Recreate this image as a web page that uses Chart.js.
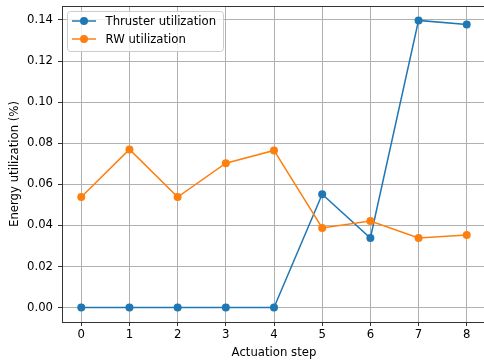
<!DOCTYPE html>
<html>
<head>
<meta charset="utf-8">
<script src="https://cdn.jsdelivr.net/npm/chart.js@4/dist/chart.umd.min.js"></script>
<style>
  html, body { margin: 0; padding: 0; background: #fff; overflow: hidden; }
  #wrap { width: 484px; height: 364px; overflow: hidden; position: relative; }
  canvas { display: block; }
</style>
</head>
<body>
<div id="wrap"><canvas id="c" width="490" height="364" style="width:490px;height:364px"></canvas></div>
<script>
const steps = [0, 1, 2, 3, 4, 5, 6, 7, 8];
const thrusterUtil = [0.0, 0.0, 0.0, 0.0, 0.0, 0.0552, 0.0339, 0.1398, 0.1378];
const rwUtil = [0.0538, 0.0770, 0.0538, 0.0703, 0.0765, 0.0388, 0.0421, 0.0339, 0.0354];
const xTicks = [0, 1, 2, 3, 4, 5, 6, 7, 8];
const yTicks = [0.00, 0.02, 0.04, 0.06, 0.08, 0.10, 0.12, 0.14];
const seriesNames = ['Thruster utilization', 'RW utilization'];
const seriesColors = ['#1f77b4', '#ff7f0e'];

const FONT = 'DejaVu Sans';
const FS = 11.7;

const toPts = (ys) => steps.map((x, i) => ({ x: x, y: ys[i] }));

const insideLegend = {
  id: 'insideLegend',
  afterDatasetsDraw(chart) {
    const ctx = chart.ctx;
    const ca = chart.chartArea;
    ctx.save();
    ctx.strokeStyle = '#333';
    ctx.lineWidth = 1;
    ctx.beginPath();
    ctx.moveTo(ca.left, ca.top + 0.5);
    ctx.lineTo(ca.right, ca.top + 0.5);
    ctx.stroke();

    const bx = 67.5, by = 11.5, bw = 156, bh = 40, r = 3;
    ctx.fillStyle = 'rgba(255,255,255,0.8)';
    ctx.strokeStyle = '#cccccc';
    ctx.lineWidth = 1;
    ctx.beginPath();
    ctx.moveTo(bx + r, by);
    ctx.lineTo(bx + bw - r, by);
    ctx.arcTo(bx + bw, by, bx + bw, by + r, r);
    ctx.lineTo(bx + bw, by + bh - r);
    ctx.arcTo(bx + bw, by + bh, bx + bw - r, by + bh, r);
    ctx.lineTo(bx + r, by + bh);
    ctx.arcTo(bx, by + bh, bx, by + bh - r, r);
    ctx.lineTo(bx, by + r);
    ctx.arcTo(bx, by, bx + r, by, r);
    ctx.closePath();
    ctx.fill();
    ctx.stroke();

    chart.data.datasets.forEach((ds, i) => {
      const y = 21 + i * 18;
      ctx.strokeStyle = ds.borderColor;
      ctx.lineWidth = 1.5;
      ctx.beginPath();
      ctx.moveTo(72, y);
      ctx.lineTo(96, y);
      ctx.stroke();
      ctx.fillStyle = ds.backgroundColor;
      ctx.beginPath();
      ctx.arc(84, y, 4, 0, Math.PI * 2);
      ctx.fill();
      ctx.fillStyle = '#000';
      ctx.font = FS + 'px "' + FONT + '"';
      ctx.textBaseline = 'middle';
      ctx.textAlign = 'left';
      ctx.fillText(ds.label, 105.5, y + 0.5);
    });
    ctx.restore();
  }
};

const xGridColor = (c) => (c.tick && xTicks.includes(c.tick.value)) ? '#b0b0b0' : 'rgba(0,0,0,0)';
const yGridColor = (c) => (c.tick && yTicks.includes(c.tick.value)) ? '#b0b0b0' : 'rgba(0,0,0,0)';

new Chart(document.getElementById('c'), {
  type: 'line',
  data: {
    datasets: [
      {
        label: seriesNames[0],
        data: toPts(thrusterUtil),
        borderColor: seriesColors[0],
        backgroundColor: seriesColors[0],
        borderWidth: 1.5,
        pointRadius: 4,
        pointBorderWidth: 0,
        pointHoverRadius: 4,
        tension: 0,
        order: 1
      },
      {
        label: seriesNames[1],
        data: toPts(rwUtil),
        borderColor: seriesColors[1],
        backgroundColor: seriesColors[1],
        borderWidth: 1.5,
        pointRadius: 4,
        pointBorderWidth: 0,
        pointHoverRadius: 4,
        tension: 0,
        order: 0
      }
    ]
  },
  options: {
    responsive: false,
    animation: false,
    devicePixelRatio: 1,
    layout: { padding: { left: 0, right: 0, top: 6, bottom: 0 } },
    plugins: {
      legend: { display: false },
      tooltip: { enabled: false }
    },
    scales: {
      x: {
        type: 'linear',
        min: -0.4,
        max: 8.4,
        afterBuildTicks: (s) => { s.ticks = xTicks.map(v => ({ value: v })); },
        afterFit: (s) => { s.height = 42; s.paddingLeft = 0; s.paddingRight = 0; },
        grid: { color: xGridColor, lineWidth: 1, tickLength: 4, tickColor: '#333', drawTicks: true },
        border: { color: '#333', width: 1 },
        ticks: {
          color: '#000',
          font: { family: FONT, size: FS },
          padding: 2,
          maxRotation: 0,
          callback: (v) => String(v)
        },
        title: {
          display: true,
          text: 'Actuation step',
          color: '#000',
          font: { family: FONT, size: FS },
          padding: { top: 0, bottom: 4 }
        }
      },
      y: {
        type: 'linear',
        min: -0.007,
        max: 0.1468,
        afterBuildTicks: (s) => { s.ticks = yTicks.map(v => ({ value: v })); },
        afterFit: (s) => { s.width = 62; s.paddingTop = 0; s.paddingBottom = 0; },
        grid: { color: yGridColor, lineWidth: 1, tickLength: 4, tickColor: '#333', drawTicks: true },
        border: { color: '#333', width: 1 },
        ticks: {
          color: '#000',
          font: { family: FONT, size: FS },
          padding: 5,
          callback: (v) => Number(v).toFixed(2)
        },
        title: {
          display: true,
          text: 'Energy utilization (%)',
          color: '#000',
          font: { family: FONT, size: FS },
          padding: { top: 8, bottom: 0 }
        }
      }
    }
  },
  plugins: [insideLegend]
});
</script>
</body>
</html>
